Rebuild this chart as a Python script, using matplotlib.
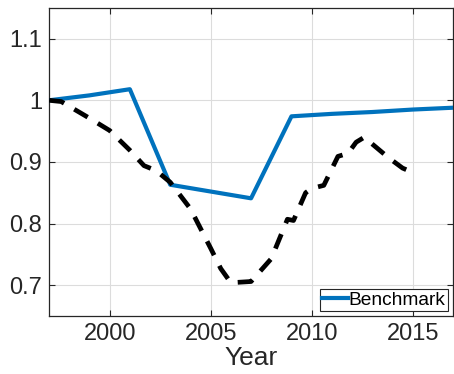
import matplotlib.pyplot as plt

# Benchmark series (every two years)
bench_years = [1997, 1999, 2001, 2003, 2005, 2007, 2009, 2011, 2013, 2015, 2017]
bench_vals = [1.0, 1.008, 1.018, 0.863, 0.852, 0.841, 0.974, 0.978, 0.981, 0.985, 0.988]

# Dashed series
dash_years = [1997, 1997.6, 1999, 2000, 2001, 2001.7, 2002.3, 2003, 2004, 2005, 2005.5,
              2006, 2007, 2008, 2008.8, 2009.1, 2009.7, 2010, 2010.6, 2011.3, 2011.8,
              2012.2, 2012.6, 2013.8, 2014.5, 2015]
dash_vals = [1.0, 0.998, 0.971, 0.951, 0.919, 0.894, 0.886, 0.867, 0.824, 0.76, 0.727,
             0.704, 0.706, 0.743, 0.807, 0.805, 0.85, 0.857, 0.862, 0.909, 0.914,
             0.932, 0.94, 0.907, 0.89, 0.883]

xticks = [2000, 2005, 2010, 2015]
yticks = [0.7, 0.8, 0.9, 1.0, 1.1]
ylabels = ['0.7', '0.8', '0.9', '1', '1.1']

dark = '#262626'
plt.rcParams['font.family'] = ['Liberation Sans', 'DejaVu Sans']

fig = plt.figure(figsize=(4.54, 3.74), dpi=100)
ax = fig.add_axes([0.108, 0.155, 0.890, 0.824])

ax.plot(bench_years, bench_vals, color='#0072BD', lw=3, label='Benchmark', zorder=3)
ax.plot(dash_years, dash_vals, color='black', lw=3.4, dashes=(3.3, 2.5),
        label='_nolegend_', zorder=3)

ax.set_xlim(1997, 2017)
ax.set_ylim(0.65, 1.15)
ax.set_xticks(xticks)
ax.set_yticks(yticks)
ax.set_yticklabels(ylabels)
ax.tick_params(direction='in', top=True, right=True, length=4, width=0.8,
               colors=dark, labelsize=17, pad=5)
ax.grid(True, color='#dcdcdc', lw=0.8)
ax.set_axisbelow(True)
for s in ax.spines.values():
    s.set_color(dark)
    s.set_linewidth(0.9)

ax.set_xlabel('Year', fontsize=19, color=dark, labelpad=1)

leg = ax.legend(loc='lower right', fontsize=13.8, fancybox=False, framealpha=1,
                edgecolor=dark, handlelength=1.35, borderpad=0.12,
                handletextpad=0.05, borderaxespad=0.27)
leg.get_frame().set_linewidth(0.8)

fig.savefig('out.png', dpi=100)
